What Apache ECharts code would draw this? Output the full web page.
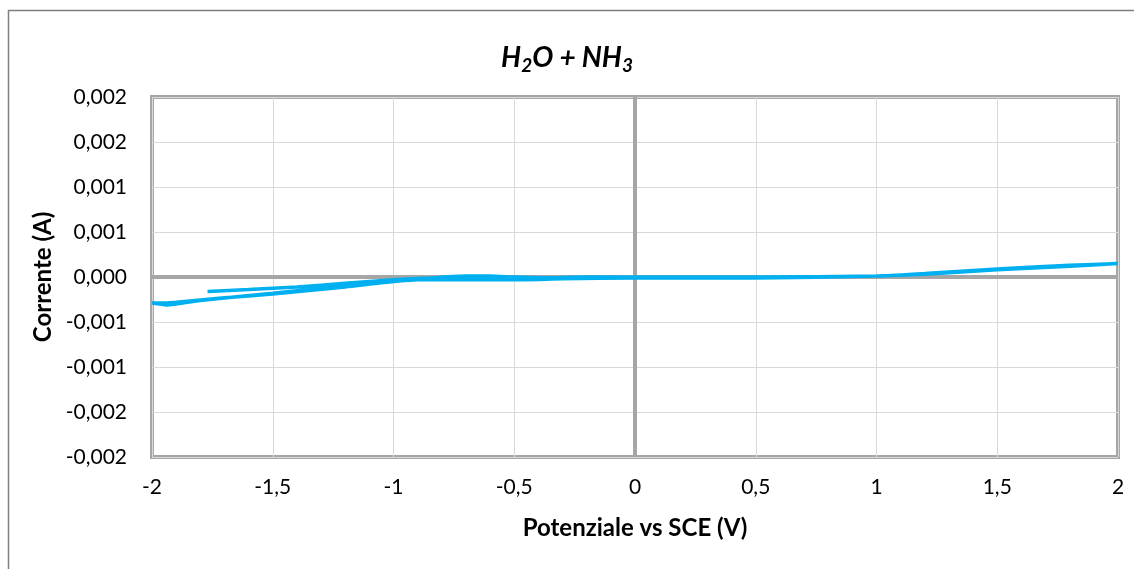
<!DOCTYPE html>
<html>
<head>
<meta charset="utf-8">
<script src="https://cdn.jsdelivr.net/npm/echarts@6/dist/echarts.min.js"></script>
<style>
  html, body { margin: 0; padding: 0; background: #fff; }
  #chart { width: 1134px; height: 569px; }
</style>
</head>
<body>
<div id="chart"></div>
<script>
// scan potential (V) and measured current (A), in recording order
const potential = [
  -1.77, -1.6, -1.4, -1.2, -1.0, -0.85, -0.7, -0.6, -0.5, -0.3, 0, 0.5, 1.0, 1.2, 1.5, 1.8, 2.0,
  1.8, 1.5, 1.2, 1.0, 0.5, 0, -0.3, -0.5, -0.7, -0.9, -1.0, -1.2, -1.5, -1.8, -1.94, -2.0,
  -1.97, -1.9, -1.7, -1.5, -1.2, -1.0, -0.8, -0.6, -0.4, -0.2, 0
];
const current = [
  -0.00016, -0.00014, -0.00011, -0.00007, -0.00003, -0.00001, 0.00001, 0.00001, 0.00000, -0.00001, 0.00000, 0.00000, 0.00001, 0.00004, 0.00009, 0.00013, 0.00015,
  0.00012, 0.00008, 0.00003, 0.00001, -0.00001, -0.00001, -0.00002, -0.00003, -0.00003, -0.00003, -0.00005, -0.00010, -0.00018, -0.00026, -0.00031, -0.00029,
  -0.00029, -0.00028, -0.00023, -0.00019, -0.00011, -0.00005, -0.00001, 0.00000, -0.00001, 0.00000, 0.00000
];

const xTickLabels = ['-2', '-1,5', '-1', '-0,5', '0', '0,5', '1', '1,5', '2'];
const yTickLabels = ['-0,002', '-0,002', '-0,001', '-0,001', '0,000', '0,001', '0,001', '0,002', '0,002'];

const xMin = -2, xMax = 2, xStep = 0.5;
const yMin = -0.002, yMax = 0.002, yStep = 0.0005;

const points = potential.map((v, i) => [v, current[i]]);

const font = 'Lato, "Liberation Sans", sans-serif';
const gray = '#a6a6a6';

const chart = echarts.init(document.getElementById('chart'));
chart.setOption({
  animation: false,
  backgroundColor: '#fff',
  textStyle: { fontFamily: font },
  title: {
    text: '{a|H}{s|2}{a|O + NH}{s|3}',
    left: 'center',
    top: 36,
    textStyle: {
      rich: {
        a: { fontFamily: font, fontSize: 28, fontWeight: 'bold', fontStyle: 'italic', color: '#000', lineHeight: 34 },
        s: { fontFamily: font, fontSize: 19, fontWeight: 'bold', fontStyle: 'italic', color: '#000', lineHeight: 34, padding: [16, 0, 0, 0] }
      }
    }
  },
  graphic: [{
    type: 'rect',
    shape: { x: 8.5, y: 10.5, width: 1200, height: 700 },
    style: { fill: 'none', stroke: '#7f7f7f', lineWidth: 1.5 },
    silent: true
  }],
  grid: {
    left: 152, right: 16, top: 97, bottom: 112,
    show: true, borderColor: gray, borderWidth: 4, backgroundColor: 'transparent'
  },
  xAxis: {
    type: 'value',
    min: xMin, max: xMax, interval: xStep,
    name: 'Potenziale vs SCE (V)',
    nameLocation: 'middle',
    nameGap: 59,
    nameTextStyle: { fontFamily: font, fontSize: 24, fontWeight: 'bold', color: '#000' },
    axisLine: { show: false },
    axisTick: { show: false },
    axisLabel: {
      margin: 20, fontSize: 21, color: '#000', fontFamily: font,
      formatter: v => xTickLabels[Math.round((v - xMin) / xStep)]
    },
    splitLine: { show: true, lineStyle: { color: '#d9d9d9', width: 1 } }
  },
  yAxis: {
    type: 'value',
    min: yMin, max: yMax, interval: yStep,
    name: 'Corrente (A)',
    nameLocation: 'middle',
    nameGap: 96,
    nameTextStyle: { fontFamily: font, fontSize: 24, fontWeight: 'bold', color: '#000' },
    axisLine: { show: false },
    axisTick: { show: false },
    axisLabel: {
      margin: 25, fontSize: 21, color: '#000', fontFamily: font,
      formatter: v => yTickLabels[Math.round((v - yMin) / yStep)]
    },
    splitLine: { show: true, lineStyle: { color: '#d9d9d9', width: 1 } }
  },
  series: [{
    type: 'line',
    data: points,
    showSymbol: false,
    smooth: 0.2,
    lineStyle: { color: '#00b0f0', width: 3.5 },
    z: 3,
    markLine: {
      silent: true,
      symbol: 'none',
      label: { show: false },
      lineStyle: { color: gray, width: 4, type: 'solid' },
      z: 2,
      data: [{ yAxis: 0 }, { xAxis: 0 }]
    }
  }]
});
</script>
</body>
</html>
